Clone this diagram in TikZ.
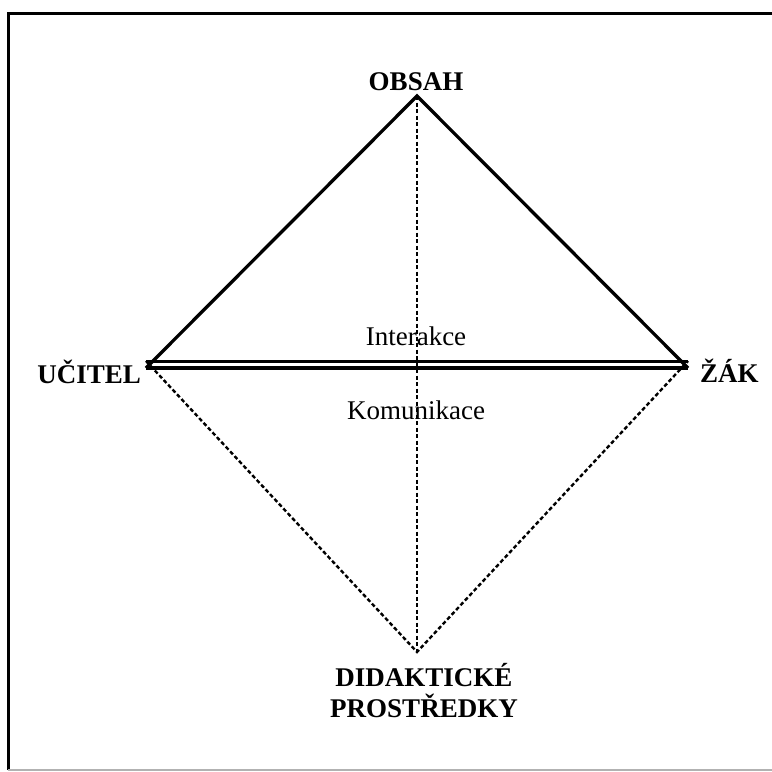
\documentclass[tikz,border=0pt]{standalone}
\usepackage{fontspec}
\setmainfont{Liberation Serif}[BoldFont={Liberation Serif Bold}]
\begin{document}
\begin{tikzpicture}[x=1pt,y=-1pt,
  lab/.style={font=\bfseries\fontsize{27}{31}\selectfont, inner sep=0pt},
  rel/.style={font=\fontsize{27}{31}\selectfont, inner sep=0pt},
  solidline/.style={line width=3.3pt},
  dashline/.style={line width=2.4pt, dash pattern=on 4pt off 2.5pt}]
\useasboundingbox (0,0) rectangle (772,772);
% frame
\draw[line width=3pt] (8,770) -- (8,13) -- (772,13);
\draw[line width=1.2pt, black!30] (8,770) -- (772,770);
% vertices
\coordinate (O) at (417,96);
\coordinate (U) at (146,368);
\coordinate (Z) at (688,368);
\coordinate (D) at (417,652);
% labels
\node[lab, anchor=base] (obsah) at (416,90) {OBSAH};
\node[lab, anchor=base east] (ucitel) at (141,383) {UČITEL};
\node[lab, anchor=base west] (zak) at (700,382) {ŽÁK};
\node[lab, anchor=base] (didakt) at (424,686) {DIDAKTICKÉ};
\node[lab, anchor=base] (prostr) at (424,717) {PROSTŘEDKY};
\node[rel, anchor=base] (inter) at (416,345) {Interakce};
\node[rel, anchor=base] (komun) at (416,419) {Komunikace};
% connectors
\draw[solidline, line join=miter] (U) -- (O) -- (Z);
\draw[solidline] (U) -- (Z);
\draw[line width=2.2pt] ([yshift=6.5pt]U) -- ([yshift=6.5pt]Z);
\draw[dashline] ([yshift=7pt]U) -- (D) -- ([yshift=7pt]Z);
\draw[dashline] (O) -- (D);
\end{tikzpicture}
\end{document}
